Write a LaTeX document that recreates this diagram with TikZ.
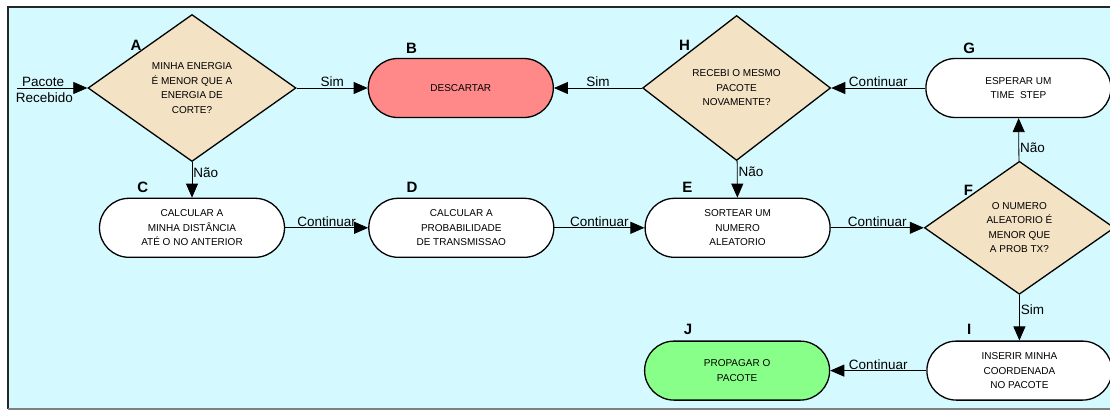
\documentclass[tikz,border=0pt]{standalone}
\usepackage{fontspec}
\setmainfont{Liberation Sans}
\usetikzlibrary{positioning,shapes.geometric,arrows.meta}

\definecolor{bgcyan}{RGB}{212,250,255}
\definecolor{decfill}{RGB}{244,226,196}
\definecolor{dropred}{RGB}{255,136,136}
\definecolor{sendgreen}{RGB}{136,255,136}

\begin{document}
\begin{tikzpicture}[
  x=1pt, y=-1pt,
  proc/.style={draw, line width=1.3pt, rectangle, rounded corners=29.5pt, fill=white, align=center,
    minimum width=185pt, minimum height=59pt, inner sep=0pt, font=\fontsize{10}{14.5}\selectfont},
  dec/.style={draw, line width=1.3pt, diamond, aspect=1.4, fill=decfill, align=center,
    inner sep=0pt, font=\fontsize{10}{14.5}\selectfont},
  tag/.style={font=\fontsize{15}{15}\selectfont\bfseries},
  elbl/.style={font=\fontsize{13.5}{14}\selectfont, inner sep=1pt},
  flow/.style={draw, line width=0.8pt, -{Triangle[length=14pt, width=12pt]}},
]
\useasboundingbox (0,0) rectangle (1110,410);
\fill[bgcyan] (8,7) rectangle (1110,409);
\draw[line width=1.2pt, black!85] (1110,7) -- (8,7) -- (8,409);
\draw[line width=1.2pt, gray] (8,409) -- (1110,409);

% top row
\node[dec, minimum width=208pt, minimum height=147pt] (A) at (192,88)
  {MINHA ENERGIA\\É MENOR QUE A\\ENERGIA DE\\CORTE?};
\node[proc, fill=dropred, right=71pt of A] (B) {DESCARTAR};
\node[dec, minimum width=188pt, minimum height=145pt, right=88pt of B] (H)
  {RECEBI O MESMO\\PACOTE\\NOVAMENTE?};
\node[proc, right=94pt of H] (G) {ESPERAR UM\\TIME\ \ STEP};

% middle row
\node[proc, below=35.5pt of A] (C) {CALCULAR A\\MINHA DISTÂNCIA\\ATÉ O NO ANTERIOR};
\node[proc, right=83pt of C] (D) {CALCULAR A\\PROBABILIDADE\\DE TRANSMISSAO};
\node[proc, right=90pt of D] (E) {SORTEAR UM\\NUMERO\\ALEATORIO};
\node[dec, minimum width=190pt, minimum height=133pt, right=93pt of E] (F)
  {O NUMERO\\ALEATORIO É\\MENOR QUE\\A PROB TX?};

% bottom row
\node[proc, below=45.5pt of F] (I) {INSERIR MINHA\\COORDENADA\\NO PACOTE};
\node[proc, fill=sendgreen, left=96pt of I] (J) {PROPAGAR O\\PACOTE};

% letters
\node[tag] at ([shift={(-56,-43)}]A.center) {A};
\node[tag] at ([shift={(-52,-43)}]H.center) {H};
\node[tag] at ([shift={(-51,-37)}]F.center) {F};
\node[tag] at ([shift={(44,-10)}]B.north west) {B};
\node[tag] at ([shift={(44,-10)}]G.north west) {G};
\node[tag] at ([shift={(44,-10)}]C.north west) {C};
\node[tag] at ([shift={(44,-10)}]D.north west) {D};
\node[tag] at ([shift={(43,-10)}]E.north west) {E};
\node[tag] at ([shift={(43,-11)}]I.north west) {I};
\node[tag] at ([shift={(44,-11)}]J.north west) {J};

% connectors
\coordinate (in) at (17,88);
\draw[flow] (in) -- node[elbl, pos=0.37, above] {Pacote}
  node[elbl, pos=0.39, below, inner sep=4pt] {Recebido} (A);
\draw[flow] (A) -- node[elbl, above] {Sim} (B);
\draw[flow] (H) -- node[elbl, above] {Sim} (B);
\draw[flow] (G) -- node[elbl, above] {Continuar} (H);
\draw[flow] (A) -- node[elbl, right, pos=0.3] {Não} (C);
\draw[flow] (H) -- node[elbl, right, pos=0.3] {Não} (E);
\draw[flow] (F) -- node[elbl, right, pos=0.32] {Não} (G);
\draw[flow] (C) -- node[elbl, above] {Continuar} (D);
\draw[flow] (D) -- node[elbl, above] {Continuar} (E);
\draw[flow] (E) -- node[elbl, above] {Continuar} (F);
\draw[flow] (F) -- node[elbl, right, pos=0.32] {Sim} (I);
\draw[flow] (I) -- node[elbl, above] {Continuar} (J);
\end{tikzpicture}
\end{document}
